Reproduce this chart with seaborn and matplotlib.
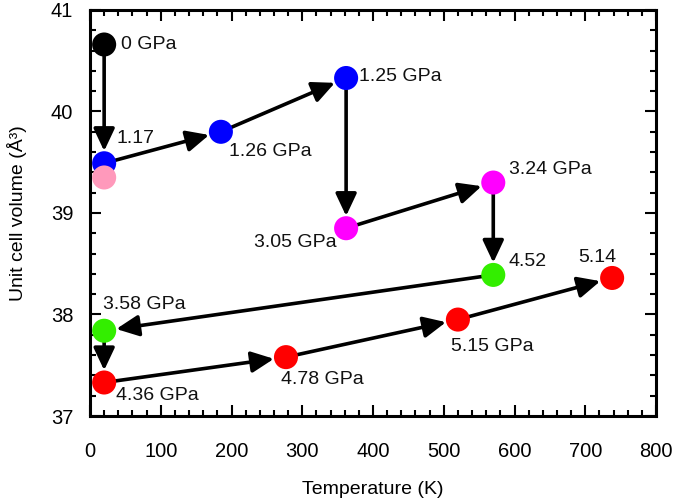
import matplotlib
matplotlib.use("Agg")
import matplotlib.pyplot as plt
from matplotlib.ticker import MultipleLocator
import seaborn as sns
import pandas as pd

# ---- data ----
temps = [20, 20, 20, 185, 362, 362, 570, 570, 20, 20, 277, 520, 738]
volumes = [40.66, 39.49, 39.35, 39.80, 40.33, 38.85, 39.30, 38.39, 37.84, 37.33, 37.58, 37.95, 38.36]
labels = ["0 GPa", "1.17", "", "1.26 GPa", "1.25 GPa", "3.05 GPa", "3.24 GPa",
          "4.52", "3.58 GPa", "4.36 GPa", "4.78 GPa", "5.15 GPa", "5.14"]
groups = ["g0", "g1", "g2", "g1", "g1", "g3", "g3", "g4", "g4", "g5", "g5", "g5", "g5"]
group_colors = {"g0": "#000000", "g1": "#0000FF", "g2": "#FF99BB",
                "g3": "#FF00FF", "g4": "#33EE00", "g5": "#FF0000"}
# path order (indices into the arrays above)
path = [0, 1, 3, 4, 5, 6, 7, 8, 9, 10, 11, 12]

# label layout (pixel offsets, alignment)
label_offsets = [(17, 0, "left"), (12, 25, "left"), (0, 0, "left"), (8, -20, "left"),
                 (13, 2, "left"), (-9, -14, "right"), (16, 13, "left"), (15, 13, "left"),
                 (-1, 26, "left"), (12, -13, "left"), (-5, -22, "left"), (-7, -27, "left"),
                 (-15, 20, "center")]

df = pd.DataFrame({"Temperature": temps, "Volume": volumes, "group": groups})

sns.set_style("ticks")
plt.rcParams["font.family"] = ["Liberation Sans", "DejaVu Sans"]
plt.rcParams["text.color"] = "black"
plt.rcParams["axes.labelcolor"] = "black"

fig = plt.figure(figsize=(6.8, 5.0), dpi=100)
ax = fig.add_axes([90 / 680, 1 - 416 / 500, 566 / 680, 406 / 500])

# arrows along the path
for a, b in zip(path[:-1], path[1:]):
    ax.annotate("", xy=(temps[b], volumes[b]), xytext=(temps[a], volumes[a]),
                arrowprops=dict(arrowstyle="-|>,head_length=0.68,head_width=0.32",
                                mutation_scale=20, color="black", lw=2.6,
                                shrinkA=0, shrinkB=8.8),
                zorder=2)

sns.scatterplot(data=df, x="Temperature", y="Volume", hue="group",
                palette=group_colors, s=300, edgecolor="none", linewidth=0,
                legend=False, ax=ax, zorder=3)

for t, v, lab, (dx, dy, ha) in zip(temps, volumes, labels, label_offsets):
    if lab:
        ax.annotate(lab, xy=(t, v), xytext=(dx, dy), textcoords="offset pixels",
                    ha=ha, va="center", fontsize=14, color="#111111", zorder=4)

ax.set_xlim(0, 800)
ax.set_ylim(37, 41)
ax.xaxis.set_major_locator(MultipleLocator(100))
ax.xaxis.set_minor_locator(MultipleLocator(20))
ax.yaxis.set_major_locator(MultipleLocator(1))
ax.yaxis.set_minor_locator(MultipleLocator(0.2))
ax.tick_params(which="both", direction="in", top=True, right=True, width=1.5,
               colors="black", labelsize=14.5)
ax.tick_params(which="major", length=8)
ax.tick_params(which="minor", length=4.5)
ax.tick_params(axis="x", which="both", pad=19)
ax.tick_params(axis="y", which="both", pad=12)
for sp in ax.spines.values():
    sp.set_linewidth(2.2)
    sp.set_color("black")

ax.set_xlabel("Temperature (K)", fontsize=14, labelpad=14)
ax.set_ylabel("Unit cell volume (Å³)", fontsize=14, labelpad=17)

fig.savefig("out.png", dpi=100)
